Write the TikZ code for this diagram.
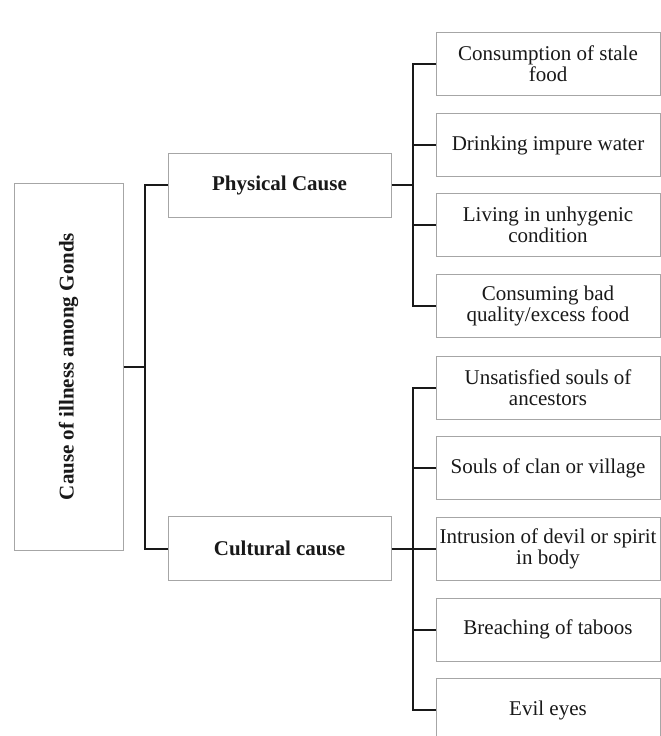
\documentclass[tikz,border=0pt]{standalone}
\usepackage{fontspec}
\setmainfont{Liberation Serif}
\usepackage{graphicx}
\begin{document}
\begin{tikzpicture}[x=1pt,y=1pt,
  box/.style={draw=black!35, line width=1pt, fill=white, align=center, inner sep=2pt,
    font=\fontsize{21}{21}\selectfont, text=black!90},
  mainbox/.style={box, minimum width=109pt, minimum height=367pt},
  midbox/.style={box, minimum width=223pt, minimum height=64pt, font=\fontsize{21}{21}\selectfont\bfseries},
  leafbox/.style={box, minimum width=224pt, minimum height=63pt},
  conn/.style={draw=black!90, line width=2pt}]
\useasboundingbox (0,0) rectangle (661,-736);
\node[mainbox] (L) at (68.5,-366.5) {\rotatebox{90}{\textbf{Cause of illness among Gonds}}};
\node[midbox] (P) at (279.5,-185) {Physical Cause};
\node[midbox] (C) at (279.5,-548.5) {Cultural cause};
\node[leafbox] (R1) at (548,-64) {Consumption of stale\\food};
\node[leafbox] (R2) at (548,-145) {Drinking impure water};
\node[leafbox] (R3) at (548,-225) {Living in unhygenic\\condition};
\node[leafbox] (R4) at (548,-305.5) {Consuming bad\\quality/excess food};
\node[leafbox] (R5) at (548,-387.5) {Unsatisfied souls of\\ancestors};
\node[leafbox] (R6) at (548,-468) {Souls of clan or village};
\node[leafbox] (R7) at (548,-548.5) {Intrusion of devil or spirit\\in body};
\node[leafbox] (R8) at (548,-629.5) {Breaching of taboos};
\node[leafbox] (R9) at (548,-710) {Evil eyes};
% left trunk
\draw[conn] (L.east) -- ++(22,0);
\draw[conn] (P.west) -- ++(-23,0) |- (C.west);
% physical trunk
\draw[conn] (P.east) -- ++(22,0);
\draw[conn] (R1.west) -- ++(-23,0) |- (R4.west);
\draw[conn] (R2.west) -- ++(-23,0);
\draw[conn] (R3.west) -- ++(-23,0);
% cultural trunk
\draw[conn] (C.east) -- ++(22,0);
\draw[conn] (R5.west) -- ++(-23,0) |- (R9.west);
\draw[conn] (R6.west) -- ++(-23,0);
\draw[conn] (R7.west) -- ++(-23,0);
\draw[conn] (R8.west) -- ++(-23,0);
\end{tikzpicture}
\end{document}
